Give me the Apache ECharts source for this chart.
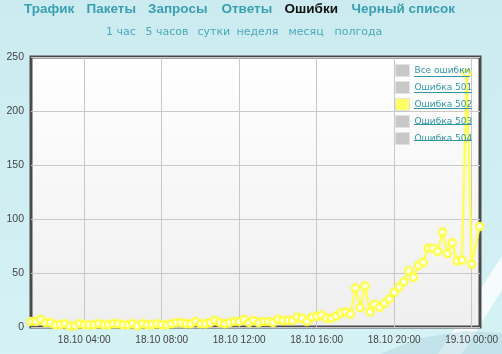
<!DOCTYPE html>
<html>
<head>
<meta charset="utf-8">
<script src="https://cdn.jsdelivr.net/npm/echarts@6/dist/echarts.min.js"></script>
<style>
html,body{margin:0;padding:0;}
#chart{width:502px;height:354px;}
</style>
</head>
<body>
<div id="chart"></div>
<script>
// ---- data ----
const menuItems = ['Трафик', 'Пакеты', 'Запросы', 'Ответы', 'Ошибки', 'Черный список'];
const activeMenu = 'Ошибки';
const periodItems = ['1 час', '5 часов', 'сутки', 'неделя', 'месяц', 'полгода'];
const legendNames = ['Все ошибки', 'Ошибка 501', 'Ошибка 502', 'Ошибка 503', 'Ошибка 504'];
const activeSeries = 'Ошибка 502';

// sample times in minutes since 18.10 00:00 (every 15 min from 01:15, last sample at 00:25)
const firstSampleMinute = 75;
const sampleStepMinutes = 15;
const lastSampleMinute = 1465;
const errors502 = [
  5, 5, 7, 4, 4, 2, 2, 3, 1, 1,
  3, 2, 2, 2, 3, 2, 2, 3, 3, 2,
  2, 3, 1, 3, 2, 2, 3, 2, 2, 3,
  4, 4, 3, 3, 5, 3, 3, 4, 6, 4,
  3, 4, 5, 5, 7, 4, 6, 4, 5, 5,
  4, 7, 6, 6, 6, 9, 8, 5, 9, 10,
  11, 8, 8, 10, 13, 14, 12, 36, 18, 38,
  14, 21, 18, 22, 26, 32, 37, 42, 52, 46,
  57, 60, 73, 73, 70, 88, 68, 78, 61, 62,
  235, 58, 93
];
const xTickMinutes = [240, 480, 720, 960, 1200, 1440];
const yMax = 250, yStep = 50;

// ---- build ----
const sampleTimes = errors502.map((v, i) =>
  i < errors502.length - 1 ? firstSampleMinute + i * sampleStepMinutes : lastSampleMinute);
const seriesData = errors502.map((v, i) => [sampleTimes[i], v]);

function fmtTime(m) {
  const day = 18 + Math.floor(m / 1440);
  const mm = m % 1440;
  const h = Math.floor(mm / 60), mi = mm % 60;
  return day + '.10 ' + String(h).padStart(2, '0') + ':' + String(mi).padStart(2, '0');
}

const chart = echarts.init(document.getElementById('chart'), null, {renderer: 'canvas'});

const menuLeft = [24, 86.5, 148, 221.5, 284.5, 351.5];
const periodLeft = [106, 145.5, 197.5, 236.5, 288.5, 334.5];
const graphics = [];
// decorative background shapes
graphics.push({type: 'polygon', z: -10, silent: true,
  shape: {points: [[502, 256], [502, 290], [462, 354], [438, 354]]},
  style: {fill: 'rgba(255,255,255,0.75)'}});
graphics.push({type: 'polygon', z: -10, silent: true,
  shape: {points: [[380, 354], [420, 338], [465, 331], [502, 333], [502, 354]]},
  style: {fill: 'rgba(160,200,215,0.35)'}});
menuItems.forEach((t, i) => {
  graphics.push({type: 'text', left: menuLeft[i], top: 2, silent: true,
    style: {text: t, fill: t === activeMenu ? '#111111' : '#3a9fb0',
      font: 'bold 13.5px "Liberation Sans", Arial, sans-serif'}});
});
periodItems.forEach((t, i) => {
  graphics.push({type: 'text', left: periodLeft[i], top: 27, silent: true,
    style: {text: t, fill: '#4aa9ba', font: '11px "DejaVu Sans", sans-serif'}});
});
// underlines for legend links
const legendFont = '9px "DejaVu Sans", sans-serif';
const mctx = document.createElement('canvas').getContext('2d');
mctx.font = legendFont;
legendNames.forEach((n, i) => {
  const w = mctx.measureText(n).width;
  const y = 76.5 + i * 16;
  graphics.push({type: 'line', silent: true, z: 20,
    shape: {x1: 414, y1: y, x2: 414 + w, y2: y},
    style: {stroke: '#2f97a8', lineWidth: 1}});
});

const series = legendNames.map(n => {
  if (n !== activeSeries) {
    return {name: n, type: 'line', data: [], itemStyle: {color: '#c8c8c8'}};
  }
  return {
    name: n, type: 'line', data: seriesData, z: 2,
    symbol: 'circle', symbolSize: 7, showAllSymbol: true,
    lineStyle: {color: '#ffff55', width: 2, shadowColor: 'rgba(255,255,60,0.5)', shadowBlur: 2},
    itemStyle: {color: '#ffffff', borderColor: '#ffff44', borderWidth: 2,
      shadowColor: 'rgba(255,255,60,0.5)', shadowBlur: 2}
  };
});

chart.setOption({
  animation: false,
  backgroundColor: {type: 'linear', x: 0, y: 0, x2: 0, y2: 1,
    colorStops: [{offset: 0, color: '#cbebf0'}, {offset: 1, color: '#d5f2f5'}]},
  graphic: graphics,
  grid: {left: 31, right: 22, top: 57, bottom: 27, show: true,
    borderColor: '#4a4a4a', borderWidth: 3,
    backgroundColor: {type: 'linear', x: 0, y: 0, x2: 0, y2: 1,
      colorStops: [{offset: 0, color: '#ffffff'}, {offset: 1, color: '#efefef'}]}},
  legend: {
    orient: 'vertical', left: 395, top: 64, padding: 0, z: 10,
    itemWidth: 14, itemHeight: 12, itemGap: 4, icon: 'rect', selectedMode: false,
    textStyle: {color: '#2f97a8', fontSize: 9, fontFamily: 'DejaVu Sans'},
    data: legendNames.map(n => ({name: n,
      itemStyle: {color: n === activeSeries ? '#ffff66' : '#c8c8c8', borderColor: '#e2e2e2', borderWidth: 1}}))
  },
  xAxis: {
    type: 'value', min: firstSampleMinute, max: lastSampleMinute + 1,
    axisLine: {show: false},
    axisTick: {show: false, customValues: xTickMinutes},
    axisLabel: {customValues: xTickMinutes, formatter: v => fmtTime(v),
      color: '#444', fontSize: 10, fontFamily: 'Liberation Sans', margin: 8},
    splitLine: {show: true, lineStyle: {color: '#c8c8c8', width: 1}}
  },
  yAxis: {
    type: 'value', min: 0, max: yMax, interval: yStep,
    axisLine: {show: false}, axisTick: {show: false},
    axisLabel: {color: '#444', fontSize: 10.5, fontFamily: 'Liberation Sans', margin: 7},
    splitLine: {show: true, lineStyle: {color: '#c8c8c8', width: 1}}
  },
  series: series
});
</script>
</body>
</html>
